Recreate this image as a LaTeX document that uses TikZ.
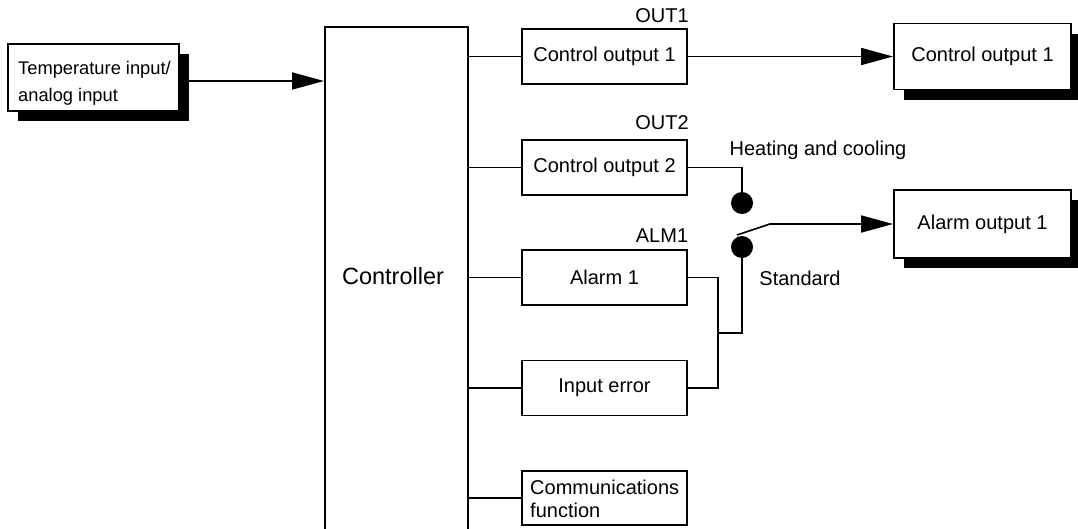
\documentclass[tikz,border=0pt]{standalone}
\usepackage{fontspec}
\setmainfont{Liberation Sans}
\usetikzlibrary{arrows.meta,shadows}
\newcommand\fsbox{\fontsize{20}{23}\selectfont}
\newcommand\fstemp{\fontsize{18.3}{27}\selectfont}
\newcommand\fsctrl{\fontsize{23.5}{26}\selectfont}
\begin{document}
\begin{tikzpicture}[x=1pt,y=-1pt,
  box/.style={draw, line width=1.8pt, fill=white, inner sep=0pt, font=\fsbox},
  shbox/.style={box, drop shadow={shadow xshift=10pt, shadow yshift=-10pt, fill=black, opacity=1}},
  wire/.style={line width=1.7pt},
  arr/.style={wire, -{Triangle[length=32pt,width=17pt]}},
  lbl/.style={inner sep=0pt, font=\fsbox},
  dot/.style={circle, fill=black, minimum size=22pt, inner sep=0pt}]
\useasboundingbox (0,0) rectangle (1078,528);
% input box
\node[shbox, minimum width=171pt, minimum height=67pt] (temp) at (93.5,77.5) {};
\node[inner sep=0pt, anchor=north west, align=left, font=\fstemp] (temptext) at (18,61.5) {Temperature input/\\analog input};
% controller
\node[draw, line width=1.8pt, anchor=north west, minimum width=143pt, minimum height=520pt, inner sep=0pt] (ctrl) at (324,26) {};
\node[inner sep=0pt, font=\fsctrl] (ctrltext) at (393,276) {Controller};
% function boxes
\node[box, minimum width=165pt, minimum height=55pt] (co1) at (604.5,56.5) {Control output 1};
\node[box, minimum width=165pt, minimum height=55pt] (co2) at (604.5,167.5) {Control output 2};
\node[box, minimum width=165pt, minimum height=55pt] (alm) at (604.5,277.5) {Alarm 1};
\node[box, minimum width=165pt, minimum height=55pt] (ie) at (604.5,388) {Input error};
\node[box, minimum width=165pt, minimum height=54pt] (comm) at (604.5,498) {};
\node[inner sep=0pt, anchor=north west, align=left, font=\fsbox] (commtext) at (530,480) {Communications\\function};
% output boxes
\node[shbox, minimum width=177pt, minimum height=66pt] (cot) at (982.5,56.5) {Control output 1};
\node[shbox, minimum width=177pt, minimum height=68pt] (alt) at (982.5,224) {Alarm output 1};
% labels
\node[lbl] (out1) at (662,16) {OUT1};
\node[lbl] (out2) at (662,123) {OUT2};
\node[lbl] (alm1) at (662,236) {ALM1};
\node[lbl] (heat) at (818,150) {Heating and cooling};
\node[lbl] (std) at (800,278) {Standard};
% switch contacts
\node[dot] (c1) at (742,203) {};
\node[dot] (c2) at (742,247) {};
\coordinate (sw1) at (737,235);
\coordinate (sw2) at (770,224);
\coordinate (j1) at (718,333);
% connectors
\draw[arr] ([yshift=-3.5pt]temp.east) -- ([yshift=-3.5pt]temp.east -| ctrl.west);
\foreach \b in {co1,co2,alm,ie,comm}
  \draw[wire] (\b.west -| ctrl.east) -- (\b.west);
\draw[arr] (co1.east) -- (co1.east -| cot.west);
\draw[wire] (co2.east) -| (c1.north);
\draw[wire] (alm.east) -| (j1);
\draw[wire] (ie.east) -| (j1);
\draw[wire] (j1) -| (c2.south);
\draw[arr] (sw1) -- (sw2) -- (sw2 -| alt.west);
\end{tikzpicture}
\end{document}
